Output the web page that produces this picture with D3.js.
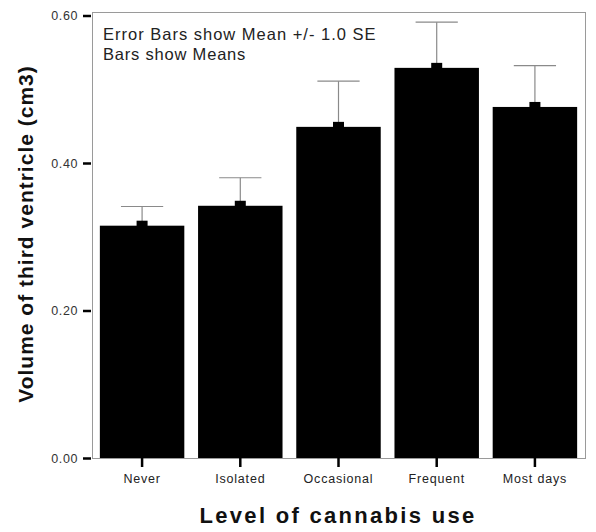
<!DOCTYPE html>
<html>
<head>
<meta charset="utf-8">
<script src="https://cdn.jsdelivr.net/npm/d3@7"></script>
<style>
  body { margin: 0; background: #fff; }
  text { font-family: "Liberation Sans", Arial, sans-serif; }
</style>
</head>
<body>
<div id="chart"></div>
<script>
// values
var categories = ["Never", "Isolated", "Occasional", "Frequent", "Most days"];
var means      = [0.315, 0.342, 0.449, 0.529, 0.476];
var upperSE    = [0.341, 0.380, 0.511, 0.591, 0.532];
var yTicks     = [0.00, 0.20, 0.40, 0.60];

var width = 596, height = 532;
var plot = {left: 92, right: 585, top: 12, bottom: 458};

var svg = d3.select("#chart").append("svg")
    .attr("width", width)
    .attr("height", height);

var x = d3.scaleBand()
    .domain(categories)
    .range([plot.left, plot.right])
    .paddingInner(0.14)
    .paddingOuter(0.08);

var y = d3.scaleLinear()
    .domain([0, 0.6])
    .range([plot.bottom, 15.5]);

// frame
svg.append("rect")
    .attr("x", plot.left + 0.5)
    .attr("y", plot.top + 0.5)
    .attr("width", plot.right - plot.left)
    .attr("height", plot.bottom - plot.top)
    .attr("fill", "none")
    .attr("stroke", "#9a9a9a")
    .attr("stroke-width", 1);

// bars
svg.selectAll(".bar")
    .data(means)
    .enter().append("rect")
    .attr("class", "bar")
    .attr("x", function(d, i) { return x(categories[i]); })
    .attr("y", function(d) { return y(d); })
    .attr("width", x.bandwidth())
    .attr("height", function(d) { return y(0) - y(d); })
    .attr("fill", "#000");

// error bars (upper only visible)
var capW = x.bandwidth() / 2;
var err = svg.selectAll(".err")
    .data(upperSE)
    .enter().append("g")
    .attr("class", "err")
    .attr("transform", function(d, i) { return "translate(" + (x(categories[i]) + x.bandwidth() / 2) + ",0)"; });

err.append("line")
    .attr("x1", 0).attr("x2", 0)
    .attr("y1", function(d, i) { return y(means[i]); })
    .attr("y2", function(d) { return y(d); })
    .attr("stroke", "#8a8a8a")
    .attr("stroke-width", 1.2);

err.append("line")
    .attr("x1", -capW / 2).attr("x2", capW / 2)
    .attr("y1", function(d) { return y(d); })
    .attr("y2", function(d) { return y(d); })
    .attr("stroke", "#8a8a8a")
    .attr("stroke-width", 1.2);

// mean marker on top of each bar
err.append("rect")
    .attr("x", -5.5)
    .attr("y", function(d, i) { return y(means[i]) - 5; })
    .attr("width", 11)
    .attr("height", 6)
    .attr("fill", "#000");

// y axis
var yAxis = d3.axisLeft(y)
    .tickValues(yTicks)
    .tickFormat(d3.format(".2f"))
    .tickSize(8)
    .tickPadding(5);

var gy = svg.append("g")
    .attr("transform", "translate(" + (plot.left - 1) + ",0)")
    .call(yAxis);
gy.select(".domain").remove();
gy.selectAll(".tick line").attr("stroke", "#000").attr("stroke-width", 2.5);
gy.selectAll(".tick text")
    .attr("fill", "#333")
    .style("font-size", "12.5px")
    .style("letter-spacing", "0.6px");

// x axis
var xAxis = d3.axisBottom(x).tickSize(9).tickPadding(7);
var gx = svg.append("g")
    .attr("transform", "translate(0," + plot.bottom + ")")
    .call(xAxis);
gx.select(".domain").remove();
gx.selectAll(".tick line").attr("stroke", "#000").attr("stroke-width", 2.5);
gx.selectAll(".tick text")
    .attr("fill", "#222")
    .style("font-size", "12.5px")
    .style("letter-spacing", "0.8px");

// annotation
svg.append("text")
    .attr("x", 103).attr("y", 40)
    .attr("fill", "#222")
    .style("font-size", "16.5px")
    .style("letter-spacing", "1px")
    .text("Error Bars show Mean +/- 1.0 SE");
svg.append("text")
    .attr("x", 103).attr("y", 60)
    .attr("fill", "#222")
    .style("font-size", "16.5px")
    .style("letter-spacing", "0.8px")
    .text("Bars show Means");

// axis titles
svg.append("text")
    .attr("text-anchor", "middle")
    .attr("transform", "translate(33,234)rotate(-90)")
    .style("font-size", "21px")
    .style("font-weight", "bold")
    .style("letter-spacing", "1px")
    .attr("fill", "#111")
    .text("Volume of third ventricle (cm3)");

svg.append("text")
    .attr("text-anchor", "middle")
    .attr("x", 338).attr("y", 523)
    .style("font-size", "22px")
    .style("font-weight", "bold")
    .style("letter-spacing", "2.3px")
    .attr("fill", "#111")
    .text("Level of cannabis use");
</script>
</body>
</html>
